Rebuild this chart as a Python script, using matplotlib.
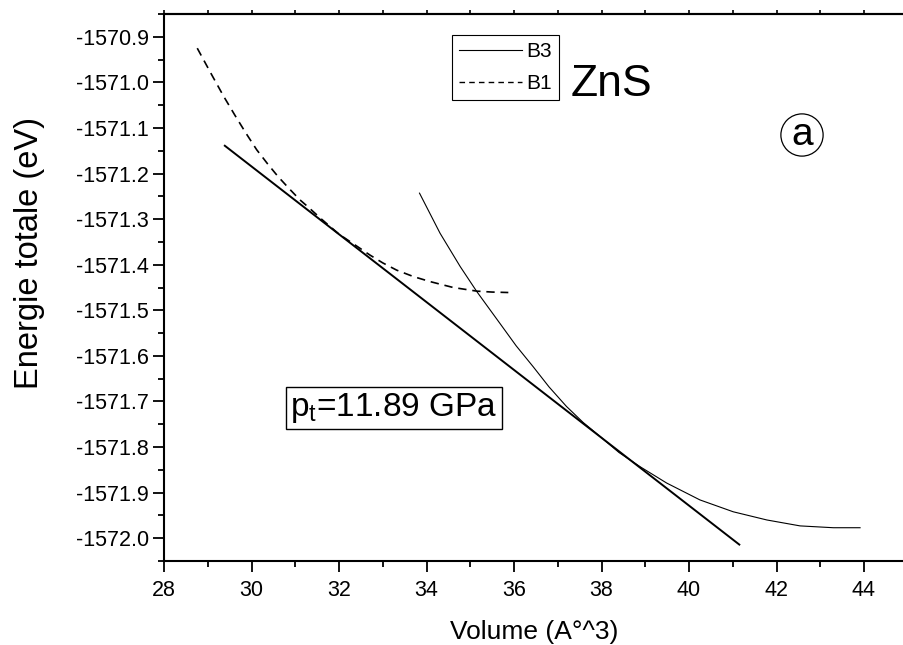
import matplotlib
matplotlib.use("Agg")
import matplotlib.pyplot as plt
from matplotlib.ticker import MultipleLocator, FormatStrFormatter, NullFormatter
from matplotlib.lines import Line2D

plt.rcParams['font.family'] = ['Liberation Sans', 'DejaVu Sans']
plt.rcParams['mathtext.fontset'] = 'custom'
plt.rcParams['mathtext.rm'] = 'Liberation Sans'
plt.rcParams['mathtext.it'] = 'Liberation Sans:italic'

# Donnees
b1_v = [28.76, 29.10, 29.36, 29.62, 29.87, 30.12, 30.37, 30.61, 30.86, 31.11, 31.29,
        31.60, 32.00, 32.48, 32.71, 33.00, 33.32, 33.70, 34.08, 34.61, 35.15, 35.50, 35.87]
b1_e = [-1570.925, -1570.985, -1571.030, -1571.072, -1571.111, -1571.148, -1571.179,
        -1571.207, -1571.233, -1571.258, -1571.273, -1571.300, -1571.333, -1571.364,
        -1571.379, -1571.396, -1571.412, -1571.426, -1571.437, -1571.450, -1571.458,
        -1571.460, -1571.461]

b3_v = [33.84, 34.31, 34.77, 35.15, 35.68, 36.05, 36.44, 36.80, 37.20, 37.58, 37.97,
        38.40, 38.88, 39.49, 40.25, 41.01, 41.78, 42.54, 43.30, 43.91]
b3_e = [-1571.243, -1571.331, -1571.404, -1571.459, -1571.529, -1571.578, -1571.624,
        -1571.668, -1571.711, -1571.746, -1571.777, -1571.812, -1571.843, -1571.879,
        -1571.916, -1571.942, -1571.960, -1571.973, -1571.977, -1571.977]

# tangente commune
tan_v = [29.39, 41.15]
tan_e = [-1571.139, -1572.014]

W, H = 904, 645
fig = plt.figure(figsize=(W / 100, H / 100), dpi=100)
ax = fig.add_axes([164 / W, 1 - 561 / H, (W - 164) / W, (561 - 14) / H])

ax.plot(b3_v, b3_e, color='black', lw=0.8)
ax.plot(b1_v, b1_e, color='black', lw=1.2, ls=(0, (5, 3.5)))
ax.plot(tan_v, tan_e, color='black', lw=1.4)

ax.set_xlim(28, 28 + (W - 164) / 43.75)
ax.set_ylim(-1572.05, -1570.85)

ax.xaxis.set_major_locator(MultipleLocator(2))
ax.xaxis.set_minor_locator(MultipleLocator(1))
ax.yaxis.set_major_locator(MultipleLocator(0.1))
ax.yaxis.set_minor_locator(MultipleLocator(0.05))
ax.yaxis.set_major_formatter(FormatStrFormatter('%.1f'))

ax.spines['right'].set_visible(False)
for s in ['left', 'bottom', 'top']:
    ax.spines[s].set_linewidth(1.5)

ax.tick_params(which='major', direction='out', length=8, width=1.3, labelsize=15.5)
ax.tick_params(which='minor', direction='out', length=4, width=1.3)
ax.tick_params(which='both', top=False, right=False)
ax.tick_params(axis='x', which='major', pad=6)
ax.tick_params(axis='y', which='major', pad=3)

# petites graduations en haut
top = ax.secondary_xaxis('top')
top.xaxis.set_major_locator(MultipleLocator(1))
top.xaxis.set_major_formatter(NullFormatter())
top.tick_params(direction='out', length=3, width=1.2)
top.spines['top'].set_linewidth(1.5)

ax.set_xlabel('Volume (A°^3)', fontsize=19, labelpad=13)
ax.set_ylabel('Energie totale (eV)', fontsize=23.5, labelpad=22)
ax.yaxis.label.set_y(0.563)

handles = [Line2D([], [], color='black', lw=0.8),
           Line2D([], [], color='black', lw=1.0, ls=(0, (4, 3)))]
leg = fig.legend(handles, ['B3', 'B1'], loc='upper left',
                 bbox_to_anchor=(452 / W, 1 - 35 / H), fontsize=15,
                 handlelength=3.0, handletextpad=0.2, borderpad=0.35,
                 labelspacing=0.6, borderaxespad=0, fancybox=False, framealpha=1)
leg.get_frame().set_edgecolor('black')
leg.get_frame().set_linewidth(0.8)

fig.text(571 / W, 1 - 96 / H, 'ZnS', fontsize=32, ha='left', va='baseline')
fig.text(802 / W, 1 - 135 / H, 'a', fontsize=28, ha='center', va='center',
         bbox=dict(boxstyle='circle,pad=0.08', fc='white', ec='black', lw=0.9))
fig.text(290 / W, 1 - 408 / H, r'p$_\mathrm{t}$=11.89 GPa', fontsize=24,
         ha='left', va='center',
         bbox=dict(boxstyle='square,pad=0.13', fc='white', ec='black', lw=1))

fig.savefig('out.png', dpi=100)
